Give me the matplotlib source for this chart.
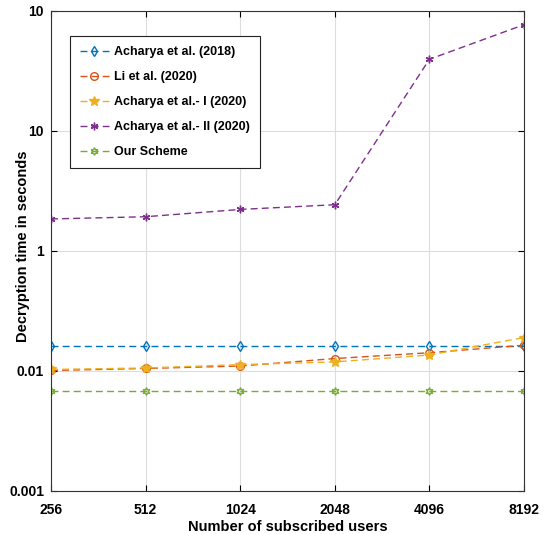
import matplotlib
matplotlib.use("Agg")
import matplotlib.pyplot as plt

users = [256, 512, 1024, 2048, 4096, 8192]
acharya_2018 = [0.0161, 0.0161, 0.0161, 0.0161, 0.0161, 0.0161]
li_2020 = [0.0101, 0.0105, 0.0110, 0.0127, 0.0142, 0.0164]
acharya_1_2020 = [0.0103, 0.0106, 0.0113, 0.0119, 0.0136, 0.0190]
acharya_2_2020 = [0.185, 0.193, 0.222, 0.243, 3.96, 7.69]
our_scheme = [0.00678, 0.00678, 0.00678, 0.00678, 0.00678, 0.00678]

ytick_vals = [0.001, 0.01, 0.1, 1, 10]
ytick_labels = ['0.001', '0.01', '1', '10', '10']

plt.rcParams['font.family'] = ['Liberation Sans', 'DejaVu Sans']
plt.rcParams['font.weight'] = 'bold'

fig = plt.figure(figsize=(5.47, 5.34), dpi=100)
ax = fig.add_axes([51/547, 1 - 491/534, (524-51)/547, (491-11)/534])

series = [
    ("Acharya et al. (2018)", acharya_2018, (0, 0.447, 0.741), 'd', 'none'),
    ("Li et al. (2020)", li_2020, (0.85, 0.325, 0.098), 'o', 'none'),
    ("Acharya et al.- I (2020)", acharya_1_2020, (0.929, 0.694, 0.125), '*', 'fill'),
    ("Acharya et al.- II (2020)", acharya_2_2020, (0.494, 0.184, 0.556), (6, 2, 0), 'fill'),
    ("Our Scheme", our_scheme, (0.466, 0.674, 0.188), (6, 1, 0), 'none'),
]
for label, vals, col, mk, fill in series:
    mfc = 'none' if fill == 'none' else col
    ms = 7 if mk == '*' else 5.5
    ax.plot(users, vals, linestyle=(0, (5, 3)), color=col, linewidth=1.0,
            marker=mk, markersize=ms, markerfacecolor=mfc, markeredgecolor=col,
            markeredgewidth=1.0, label=label)

ax.set_xscale('log', base=2)
ax.set_yscale('log')
ax.set_xlim(256, 8192)
ax.set_ylim(0.001, 10)
ax.set_xticks(users)
ax.set_xticklabels([str(u) for u in users])
ax.set_yticks(ytick_vals)
ax.set_yticklabels(ytick_labels)
ax.minorticks_off()
ax.tick_params(direction='in', top=True, right=True, labelsize=10, length=4,
               width=0.8)
ax.tick_params(axis='x', pad=9)
ax.tick_params(axis='y', pad=5)
ax.grid(True, color='#dddddd', linewidth=0.8)
for s in ax.spines.values():
    s.set_color('#333333')
    s.set_linewidth(0.8)

ax.set_xlabel('Number of subscribed users', fontsize=10.5, fontweight='bold')
ax.set_ylabel('Decryption time in seconds', fontsize=10.5, fontweight='bold')
ax.xaxis.set_label_coords(0.5, -0.06)
ax.yaxis.set_label_coords(-0.045, 0.51)

leg = ax.legend(loc='upper left', bbox_to_anchor=(0.04, 0.948), fontsize=9,
                frameon=True, fancybox=False, edgecolor='#222222', framealpha=1,
                handlelength=2.3, labelspacing=1.05, borderpad=0.8,
                handletextpad=0.45, borderaxespad=0)
leg.get_frame().set_linewidth(0.8)

fig.savefig('out.png', dpi=100)
